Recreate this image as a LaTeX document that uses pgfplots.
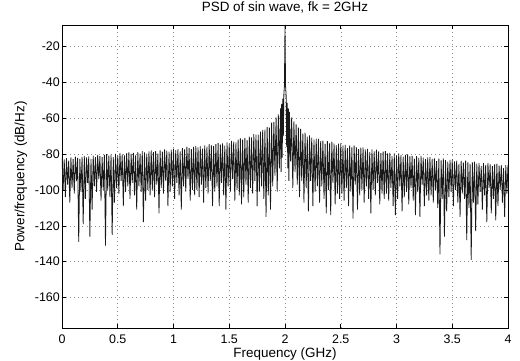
\documentclass[border=0pt]{standalone}
\usepackage{fontspec}
\setmainfont{Liberation Sans}
\usepackage{pgfplots}
\pgfplotsset{compat=1.18}
\usepackage{pgfplotstable}
\pgfplotstableread{
x y
0.00 -82.0
0.01 -100
0.02 -82.9
0.03 -104
0.04 -82.3
0.05 -97
0.06 -83.7
0.07 -107
0.08 -81.9
0.09 -99
0.10 -82.7
0.11 -102
0.12 -81.4
0.13 -95
0.14 -82.1
0.15 -129
0.16 -82.7
0.17 -101
0.18 -81.5
0.19 -119
0.20 -81.0
0.21 -105
0.22 -81.9
0.23 -96
0.24 -81.3
0.25 -126
0.26 -82.7
0.27 -111
0.28 -80.9
0.29 -98
0.30 -81.7
0.31 -101
0.32 -80.4
0.33 -94
0.34 -81.1
0.35 -106
0.36 -81.7
0.37 -100
0.38 -80.5
0.39 -131
0.40 -80.0
0.41 -100
0.42 -80.9
0.43 -104
0.44 -80.3
0.45 -125
0.46 -81.7
0.47 -107
0.48 -79.9
0.49 -99
0.50 -80.7
0.51 -102
0.52 -79.4
0.53 -95
0.54 -80.1
0.55 -109
0.56 -80.7
0.57 -101
0.58 -79.5
0.59 -98
0.60 -79.0
0.61 -105
0.62 -79.9
0.63 -96
0.64 -79.3
0.65 -103
0.66 -80.7
0.67 -111
0.68 -78.9
0.69 -98
0.70 -79.7
0.71 -101
0.72 -78.4
0.73 -118
0.74 -79.1
0.75 -106
0.76 -79.7
0.77 -100
0.78 -78.5
0.79 -103
0.80 -78.0
0.81 -100
0.82 -78.9
0.83 -104
0.84 -78.3
0.85 -97
0.86 -79.7
0.87 -113
0.88 -77.9
0.89 -99
0.90 -78.7
0.91 -102
0.92 -77.4
0.93 -95
0.94 -78.1
0.95 -109
0.96 -78.7
0.97 -101
0.98 -77.5
0.99 -98
1.00 -77.0
1.01 -105
1.02 -77.8
1.03 -96
1.04 -77.2
1.05 -103
1.06 -78.5
1.07 -111
1.08 -76.7
1.09 -98
1.10 -77.4
1.11 -101
1.12 -76.0
1.13 -94
1.14 -76.7
1.15 -106
1.16 -77.2
1.17 -100
1.18 -76.0
1.19 -103
1.20 -75.4
1.21 -100
1.22 -76.2
1.23 -104
1.24 -75.6
1.25 -97
1.26 -76.9
1.27 -107
1.28 -75.1
1.29 -99
1.30 -75.8
1.31 -102
1.32 -74.4
1.33 -95
1.34 -75.1
1.35 -109
1.36 -75.6
1.37 -101
1.38 -74.4
1.39 -98
1.40 -73.8
1.41 -109
1.42 -74.6
1.43 -96
1.44 -74.0
1.45 -103
1.46 -75.3
1.47 -111
1.48 -73.5
1.49 -98
1.50 -74.2
1.51 -101
1.52 -72.7
1.53 -94
1.54 -73.1
1.55 -106
1.56 -73.5
1.57 -100
1.58 -72.0
1.59 -103
1.60 -71.3
1.61 -108
1.62 -71.9
1.63 -104
1.64 -71.1
1.65 -97
1.66 -72.2
1.67 -107
1.68 -70.2
1.69 -99
1.70 -70.7
1.71 -102
1.72 -68.9
1.73 -95
1.74 -69.1
1.75 -109
1.76 -69.2
1.77 -101
1.78 -67.5
1.79 -98
1.80 -66.5
1.81 -105
1.82 -66.4
1.83 -115
1.84 -64.8
1.85 -103
1.86 -65.2
1.87 -111
1.88 -62.4
1.89 -98
1.90 -62.2
1.91 -92
1.92 -59.5
1.93 -101
1.94 -57.8
1.95 -88
1.96 -54.5
1.965 -90
1.97 -52.0
1.975 -82
1.98 -49.0
1.985 -70
1.99 -46.5
1.995 -42
2.00 -8
2.005 -42
2.01 -47.0
2.015 -76
2.02 -51.5
2.025 -88
2.03 -54.5
2.035 -95
2.04 -56.5
2.05 -84
2.06 -59.5
2.07 -99
2.08 -61.8
2.09 -90
2.10 -63.5
2.11 -97
2.12 -65.2
2.13 -104
2.14 -65.9
2.15 -95
2.16 -68.6
2.17 -107
2.18 -68.1
2.19 -99
2.20 -70.2
2.21 -112
2.22 -69.5
2.23 -95
2.24 -70.8
2.25 -109
2.26 -72.0
2.27 -101
2.28 -71.4
2.29 -98
2.30 -71.5
2.31 -107
2.32 -72.8
2.33 -98
2.34 -72.5
2.35 -105
2.36 -74.3
2.37 -113
2.38 -72.8
2.39 -100
2.40 -74.0
2.41 -114
2.42 -73.0
2.43 -96
2.44 -74.1
2.45 -108
2.46 -75.0
2.47 -102
2.48 -74.2
2.49 -105
2.50 -74.0
2.51 -102
2.52 -75.2
2.53 -106
2.54 -74.9
2.55 -99
2.56 -76.7
2.57 -109
2.58 -75.2
2.59 -101
2.60 -76.3
2.61 -116
2.62 -75.3
2.63 -97
2.64 -76.3
2.65 -111
2.66 -77.3
2.67 -103
2.68 -76.4
2.69 -100
2.70 -76.2
2.71 -107
2.72 -77.4
2.73 -98
2.74 -77.1
2.75 -105
2.76 -78.9
2.77 -113
2.78 -77.4
2.79 -100
2.80 -78.5
2.81 -103
2.82 -77.5
2.83 -96
2.84 -78.5
2.85 -108
2.86 -79.5
2.87 -102
2.88 -78.6
2.89 -105
2.90 -78.4
2.91 -102
2.92 -79.6
2.93 -106
2.94 -79.3
2.95 -99
2.96 -81.1
2.97 -109
2.98 -79.6
2.99 -114
3.00 -80.7
3.01 -105
3.02 -79.6
3.03 -98
3.04 -80.6
3.05 -112
3.06 -81.4
3.07 -104
3.08 -80.5
3.09 -101
3.10 -80.2
3.11 -108
3.12 -81.3
3.13 -99
3.14 -81.0
3.15 -106
3.16 -82.6
3.17 -114
3.18 -81.1
3.19 -101
3.20 -82.1
3.21 -115
3.22 -81.0
3.23 -97
3.24 -82.0
3.25 -109
3.26 -82.8
3.27 -103
3.28 -81.9
3.29 -106
3.30 -81.6
3.31 -103
3.32 -82.7
3.33 -107
3.34 -82.4
3.35 -100
3.36 -84.0
3.37 -110
3.38 -82.5
3.39 -136
3.40 -83.5
3.41 -105
3.42 -82.4
3.43 -126
3.44 -83.4
3.45 -112
3.46 -84.2
3.47 -104
3.48 -83.3
3.49 -101
3.50 -83.0
3.51 -109
3.52 -84.1
3.53 -100
3.54 -83.7
3.55 -107
3.56 -85.4
3.57 -115
3.58 -83.8
3.59 -102
3.60 -84.8
3.61 -105
3.62 -83.7
3.63 -128
3.64 -84.6
3.65 -110
3.66 -85.5
3.67 -139
3.68 -84.5
3.69 -107
3.70 -84.2
3.71 -123
3.72 -85.3
3.73 -108
3.74 -84.9
3.75 -101
3.76 -86.6
3.77 -111
3.78 -85.0
3.79 -103
3.80 -86.0
3.81 -118
3.82 -84.9
3.83 -99
3.84 -85.8
3.85 -113
3.86 -86.7
3.87 -105
3.88 -85.7
3.89 -117
3.90 -85.4
3.91 -109
3.92 -86.5
3.93 -100
3.94 -86.1
3.95 -107
3.96 -87.8
3.97 -115
3.98 -86.2
3.99 -102
4.00 -86.0
}\psd

\begin{document}
\begin{tikzpicture}
\useasboundingbox (-62bp,-33bp) rectangle (458bp,328bp);
\begin{axis}[
  at={(0,0)}, anchor=south west,
  scale only axis, width=446bp, height=303bp,
  xmin=0, xmax=4, ymin=-177, ymax=-8,
  xtick={0,0.5,1,1.5,2,2.5,3,3.5,4},
  ytick={-160,-140,-120,-100,-80,-60,-40,-20},
  /pgf/number format/assume math mode=true,
  tick label style={font=\fontsize{12.5}{14}\selectfont},
  xticklabel style={anchor=base, yshift=-15bp},
  yticklabel style={anchor=east, inner xsep=2bp},
  tick align=inside,
  major tick length=4bp,
  tick style={black, line width=0.6bp},
  axis line style={black, line width=0.8bp},
  grid=major,
  grid style={black!45, line width=0.5bp, dash pattern=on 0.6bp off 3.5bp},
  title={PSD of sin wave, fk = 2GHz},
  title style={font=\fontsize{13.5}{15}\selectfont, at={(axis description cs:0.5,1)}, anchor=base, yshift=8bp},
  xlabel={Frequency (GHz)},
  xlabel style={font=\fontsize{13.5}{15}\selectfont, at={(axis description cs:0.5,0)}, anchor=base, yshift=-29bp},
  ylabel={Power/frequency (dB/Hz)},
  ylabel style={font=\fontsize{13.5}{15}\selectfont, at={(axis description cs:-0.092,0.5)}, anchor=center},
]
\addplot[black!90, line width=0.8bp, line join=miter] table {\psd};
\end{axis}
\end{tikzpicture}
\end{document}
